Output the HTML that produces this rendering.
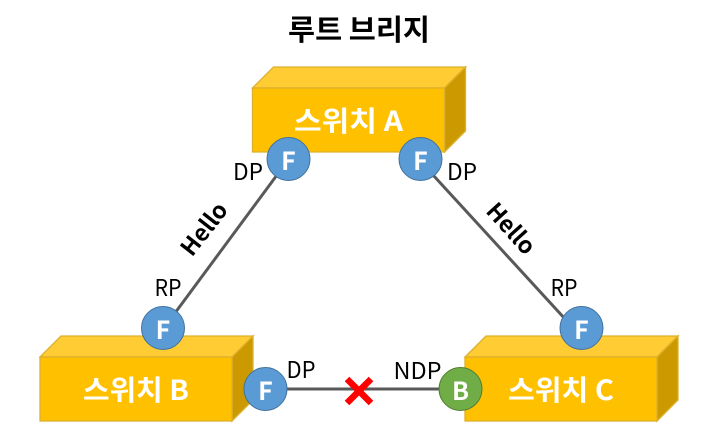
<!DOCTYPE html>
<html><head><meta charset="utf-8"><style>
html,body{margin:0;padding:0;background:#fff}
svg{display:block}
text{font-family:"Noto Sans CJK KR","Liberation Sans",sans-serif}
.w{font-weight:700;fill:#fff;font-size:28px;text-anchor:middle}
.f{font-weight:700;fill:#fff;font-size:25px;text-anchor:middle}
.l{font-size:23px;fill:#000;text-anchor:middle}
.h{font-size:23px;font-weight:700;fill:#000;text-anchor:middle}
</style></head><body>
<svg width="722" height="440" viewBox="0 0 722 440" xmlns="http://www.w3.org/2000/svg">
<rect width="722" height="440" fill="#fff"/>
<text x="359" y="40" text-anchor="middle" font-size="29" font-weight="700" fill="#000" textLength="142" lengthAdjust="spacingAndGlyphs">루트 브리지</text>
<defs>
<g id="box">
<polygon points="0,21 21,0 213,0 192,21" fill="#ffcd33" stroke="#dcb02c" stroke-width="1.3"/>
<polygon points="192,21 213,0 213,64 192,85" fill="#cc9a00" stroke="#dcb02c" stroke-width="1.3"/>
<rect x="0" y="21" width="192" height="64" fill="#ffc000" stroke="#dcb02c" stroke-width="1.3"/>
</g>
</defs>
<use href="#box" x="252.500" y="67"/>
<use href="#box" x="40" y="336"/>
<use href="#box" x="465" y="336"/>
<text class="w" x="348.500" y="131" textLength="109" lengthAdjust="spacingAndGlyphs">스위치 A</text>
<text class="w" x="136" y="400" textLength="106" lengthAdjust="spacingAndGlyphs">스위치 B</text>
<text class="w" x="561" y="400" textLength="106" lengthAdjust="spacingAndGlyphs">스위치 C</text>
<g stroke="#595959" stroke-width="3" fill="none">
<line x1="277" y1="175" x2="175" y2="313"/>
<line x1="433" y1="175" x2="566" y2="320"/>
<line x1="286" y1="389" x2="441" y2="389"/>
</g>
<g stroke="#ff0000" stroke-width="6.5"><line x1="347" y1="379" x2="371" y2="403"/><line x1="371" y1="379" x2="347" y2="403"/></g>
<g fill="#5b9bd5" stroke="#41719c" stroke-width="1">
<circle cx="288.500" cy="159" r="21.500"/>
<circle cx="420.500" cy="159" r="21.500"/>
<circle cx="163" cy="328" r="21.500"/>
<circle cx="265.500" cy="389" r="21.500"/>
<circle cx="581.500" cy="328" r="21.500"/>
</g>
<circle cx="460.500" cy="389" r="21.500" fill="#70ad47" stroke="#507e32" stroke-width="1"/>
<text class="f" x="288.500" y="170">F</text>
<text class="f" x="420.500" y="170">F</text>
<text class="f" x="163" y="339">F</text>
<text class="f" x="265.500" y="400">F</text>
<text class="f" x="581.500" y="339">F</text>
<text class="f" x="460.500" y="400">B</text>
<text class="l" x="248" y="180" textLength="30" lengthAdjust="spacingAndGlyphs">DP</text>
<text class="l" x="462" y="180" textLength="30" lengthAdjust="spacingAndGlyphs">DP</text>
<text class="l" x="168" y="296" textLength="27" lengthAdjust="spacingAndGlyphs">RP</text>
<text class="l" x="564" y="296" textLength="27" lengthAdjust="spacingAndGlyphs">RP</text>
<text class="l" x="301" y="378" textLength="29" lengthAdjust="spacingAndGlyphs">DP</text>
<text class="l" x="417.500" y="379" textLength="48" lengthAdjust="spacingAndGlyphs">NDP</text>
<text class="h" transform="translate(210.500,234) rotate(-52)" textLength="60" lengthAdjust="spacingAndGlyphs">Hello</text>
<text class="h" transform="translate(505,234) rotate(48)" textLength="60" lengthAdjust="spacingAndGlyphs">Hello</text>
</svg>
</body></html>
